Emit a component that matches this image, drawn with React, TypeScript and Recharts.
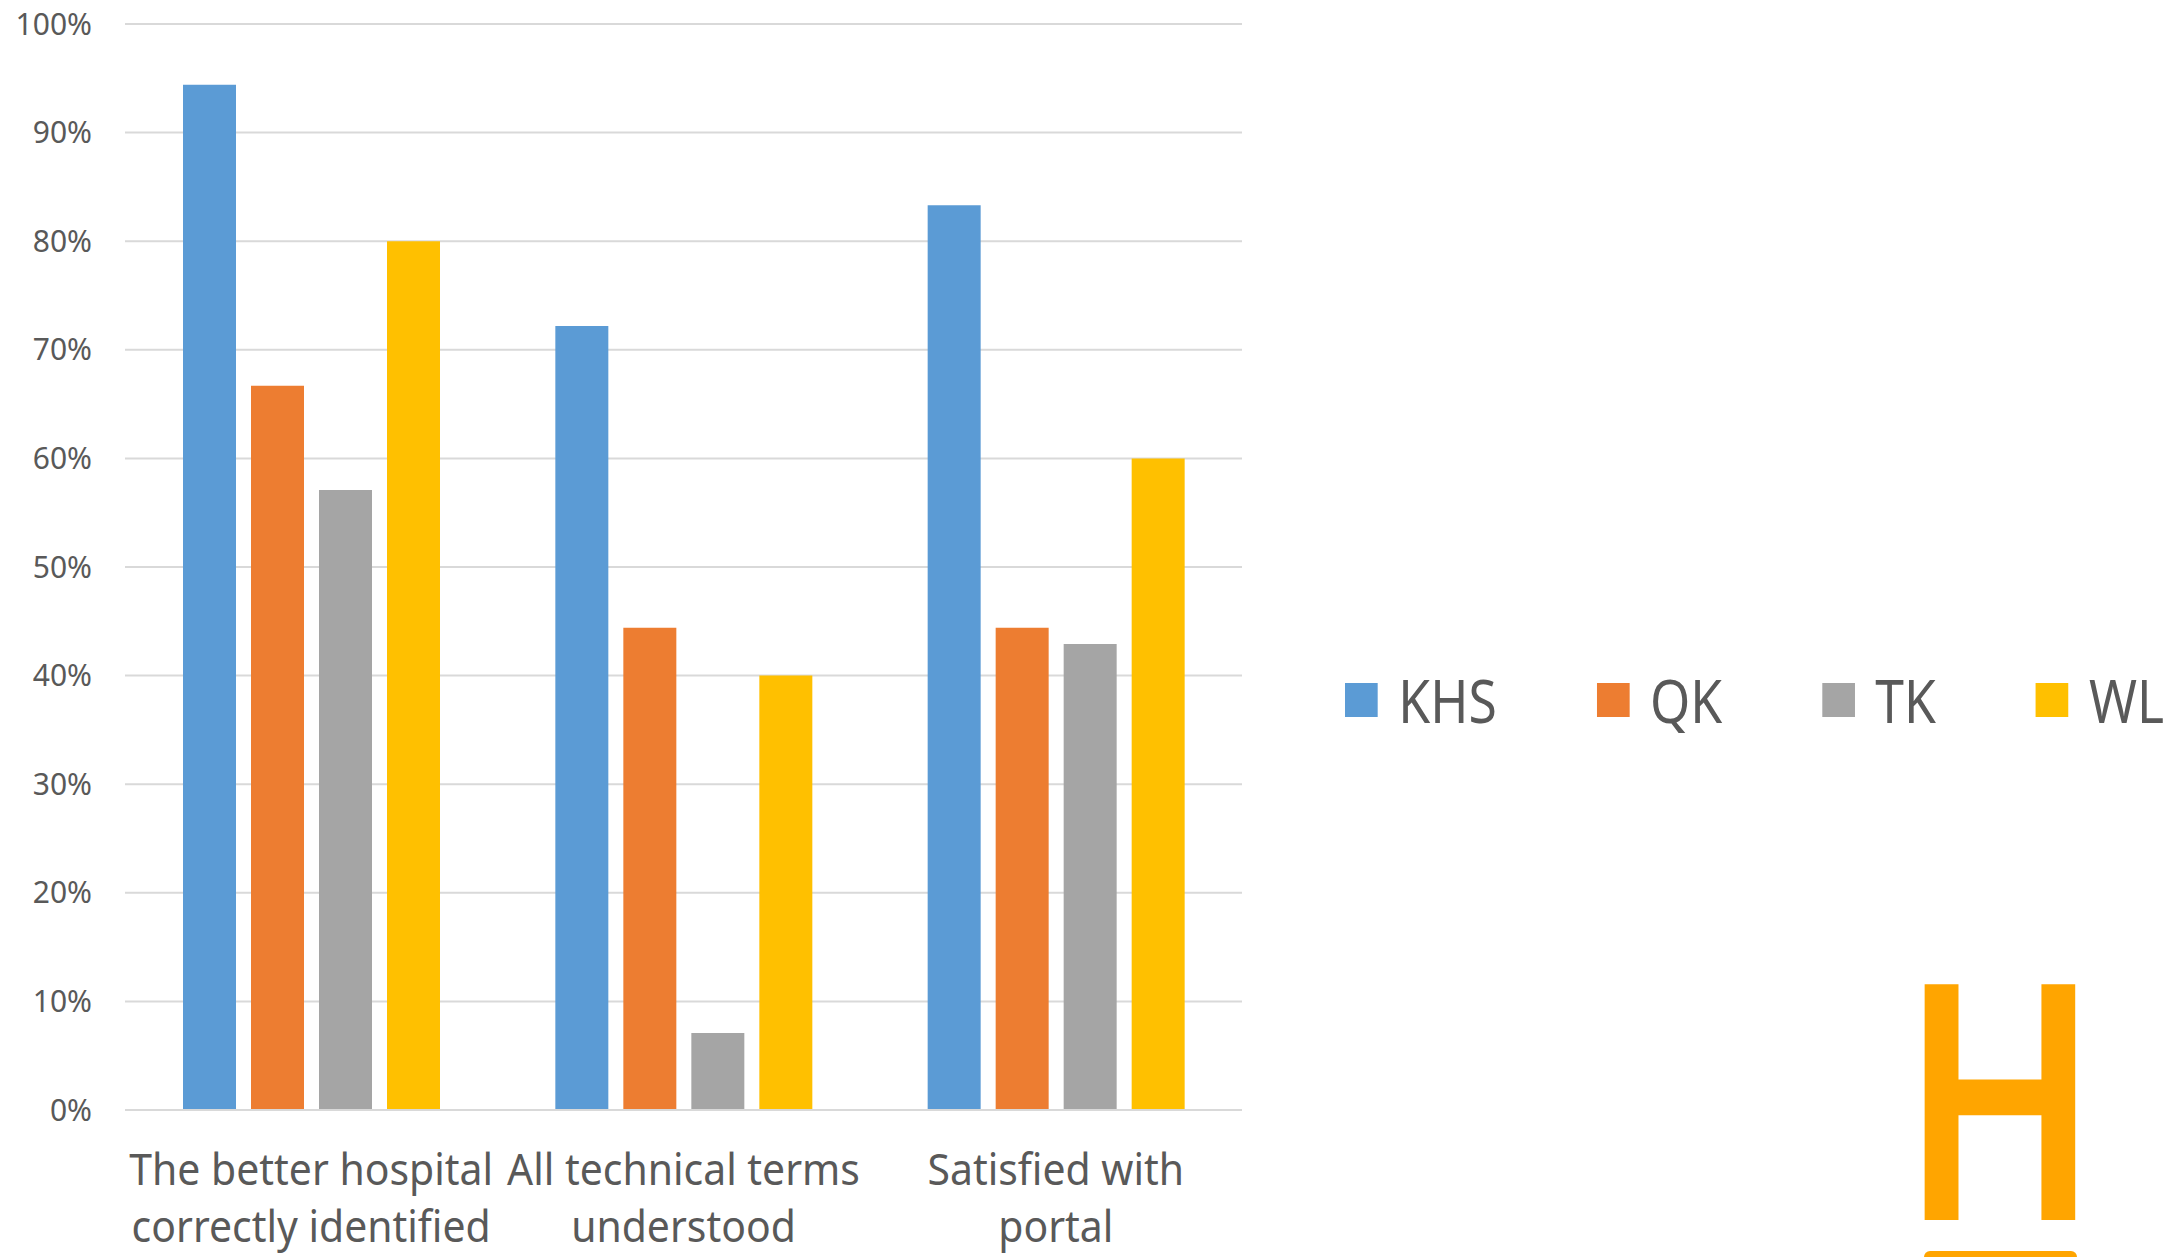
import React from 'react'
import { BarChart, Bar, XAxis, YAxis, CartesianGrid, Legend } from 'recharts'

const categories = [
  'The better hospital correctly identified',
  'All technical terms understood',
  'Satisfied with portal',
]
const categoryLines = [
  ['The better hospital', 'correctly identified'],
  ['All technical terms', 'understood'],
  ['Satisfied with', 'portal'],
]
const seriesNames = ['KHS', 'QK', 'TK', 'WL']
const khs = [94.4, 72.2, 83.3]
const qk = [66.7, 44.4, 44.4]
const tk = [57.1, 7.1, 42.9]
const wl = [80, 40, 60]
const yTicks = [0, 10, 20, 30, 40, 50, 60, 70, 80, 90, 100]

const colors = ['#5B9BD5', '#ED7D31', '#A5A5A5', '#FFC000']
const textColor = '#595959'
const font = '"Noto Sans", sans-serif'

const data = categories.map((name, i) => ({
  name,
  KHS: khs[i],
  QK: qk[i],
  TK: tk[i],
  WL: wl[i],
}))

function CategoryTick({ x, y, payload }: any) {
  const idx = categories.indexOf(payload.value)
  const lines = categoryLines[idx] || [payload.value]
  return (
    <g transform={`translate(${x},${y}) scale(0.93,1)`}>
      {lines.map((line, i) => (
        <text
          key={i}
          x={0}
          y={75 + i * 57}
          textAnchor="middle"
          fill={textColor}
          fontSize={44}
          fontFamily={font}
        >
          {line}
        </text>
      ))}
    </g>
  )
}

function LegendBox({ payload }: any) {
  return (
    <div
      style={{
        display: 'flex',
        alignItems: 'center',
        transform: 'scaleX(0.86)',
        transformOrigin: 'left center',
        whiteSpace: 'nowrap',
      }}
    >
      {(payload || []).map((p: any, i: number) => (
        <div key={p.value} style={{ display: 'flex', alignItems: 'center', marginRight: i < 3 ? 116 : 0 }}>
          <div style={{ width: 38, height: 34, background: p.color, marginRight: 24 }} />
          <span style={{ fontFamily: font, fontSize: 60, color: textColor, lineHeight: 1 }}>{p.value}</span>
        </div>
      ))}
    </div>
  )
}

export default function App() {
  return (
    <div
      style={{
        position: 'absolute',
        left: 0,
        top: 0,
        width: 2174,
        height: 1257,
        background: '#fff',
        overflow: 'hidden',
      }}
    >
      <BarChart
        width={2174}
        height={1257}
        data={data}
        margin={{ top: 24, right: 932, bottom: 0, left: 0 }}
        barSize={53}
        barGap={15}
      >
        <CartesianGrid vertical={false} stroke="#D9D9D9" strokeWidth={2} />
        <XAxis
          dataKey="name"
          height={147}
          tickLine={false}
          axisLine={{ stroke: '#D9D9D9', strokeWidth: 2 }}
          tickSize={0}
          tickMargin={0}
          interval={0}
          tick={<CategoryTick />}
        />
        <YAxis
          width={125}
          domain={[0, 100]}
          ticks={yTicks}
          tickFormatter={(v: number) => `${v}%`}
          axisLine={false}
          tickLine={false}
          tickSize={0}
          tickMargin={33}
          tick={{ fill: textColor, fontSize: 30, fontFamily: font }}
        />
        <Legend
          verticalAlign="middle"
          align="center"
          layout="horizontal"
          content={<LegendBox />}
          wrapperStyle={{ position: 'absolute', left: 1345, top: 670, width: 900 }}
        />
        {seriesNames.map((s, i) => (
          <Bar key={s} dataKey={s} fill={colors[i]} isAnimationActive={false} />
        ))}
      </BarChart>

      <svg
        width={240}
        height={300}
        style={{ position: 'absolute', left: 1880, top: 960 }}
      >
        <text
          x={120}
          y={260}
          textAnchor="middle"
          fontSize={330}
          fontWeight={600}
          fontFamily={font}
          fill="#FFA500"
          transform="translate(120,0) scale(0.8,1) translate(-120,0)"
        >
          H
        </text>
      </svg>
      <div
        style={{
          position: 'absolute',
          left: 1924,
          top: 1251,
          width: 153,
          height: 10,
          background: '#FFA500',
          borderRadius: '6px 6px 0 0',
        }}
      />
    </div>
  )
}
